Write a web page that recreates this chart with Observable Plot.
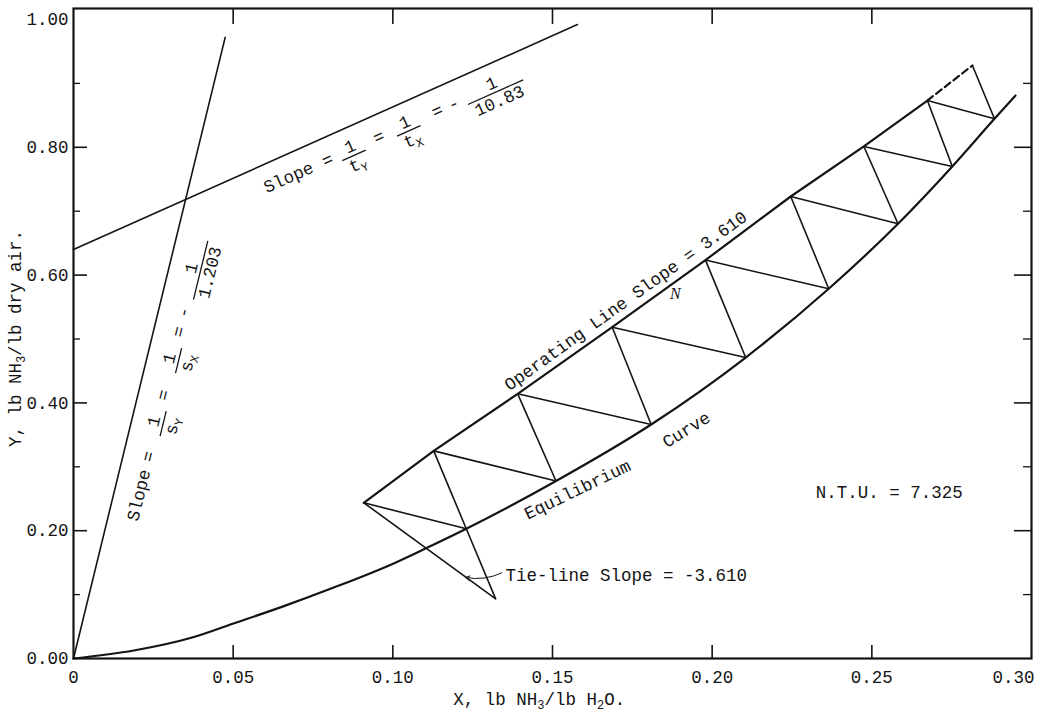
<!DOCTYPE html>
<html>
<head>
<meta charset="utf-8">
<script src="https://cdn.jsdelivr.net/npm/d3@7"></script>
<script src="https://cdn.jsdelivr.net/npm/@observablehq/plot@0.6"></script>
<style>
  body { margin: 0; background: #fff; }
</style>
</head>
<body>
<div id="chart"></div>
<script>
// ---------- data ----------
const xTicks = [0, 0.05, 0.10, 0.15, 0.20, 0.25, 0.30];
const xTickLabels = ["0", "0.05", "0.10", "0.15", "0.20", "0.25", "0.30"];
const yTicks = [0, 0.2, 0.4, 0.6, 0.8, 1.0];
const yTickLabels = ["0.00", "0.20", "0.40", "0.60", "0.80", "1.00"];
const yMinorTicks = [0.1, 0.3, 0.5, 0.7, 0.9];

// equilibrium curve
const eqX = [0, 0.0189, 0.0366, 0.0501, 0.0659, 0.0815, 0.1008, 0.1102, 0.1230, 0.1511, 0.1809, 0.2105, 0.2365, 0.2582, 0.2752, 0.2884, 0.2950];
const eqY = [0, 0.0125, 0.0320, 0.0548, 0.0820, 0.1110, 0.1500, 0.1720, 0.2030, 0.2778, 0.3662, 0.4710, 0.5786, 0.6803, 0.7700, 0.8446, 0.8811];

// operating line points (slope 3.610)
const opX = [0.0909, 0.1128, 0.1391, 0.1687, 0.1979, 0.2246, 0.2475, 0.2674, 0.2815];
const opY = [0.2437, 0.3249, 0.4142, 0.5185, 0.6235, 0.7230, 0.8013, 0.8732, 0.9280];

// step points on the equilibrium curve
const stepX = [0.1230, 0.1511, 0.1809, 0.2105, 0.2365, 0.2582, 0.2752, 0.2884];
const stepY = [0.2030, 0.2778, 0.3662, 0.4710, 0.5786, 0.6803, 0.7700, 0.8446];

// tie-line (slope -3.610)
const tieX = [0.0909, 0.1322];
const tieY = [0.2437, 0.0934];

// slope lines
const sLineX = [0, 0.0475];
const sLineY = [0, 0.972];
const tLineX = [0, 0.1578];
const tLineY = [0.64, 0.992];

// ---------- layout ----------
const W = 1045, H = 717;
const mL = 73, mR = 14, mT = 8, mB = 59;
const plotH = H - mT - mB;
const plotW = W - mL - mR;
const INK = "#141414";
const FONT = "'Liberation Mono', 'DejaVu Sans Mono', monospace";
const FS = 17.5;
const CH = FS * 0.6;

const pairs = (xs, ys) => xs.map((x, i) => [x, ys[i]]);

// rotated label laid out along a line (u along, v perpendicular, + = below)
function along(spec) {
  return (index, scales) => {
    const x0 = scales.x(spec.from[0]), y0 = scales.y(spec.from[1]);
    const x1 = scales.x(spec.to[0]), y1 = scales.y(spec.to[1]);
    const ang = Math.atan2(y1 - y0, x1 - x0) * 180 / Math.PI;
    const g = d3.create("svg:g")
      .attr("transform", `translate(${x0},${y0}) rotate(${ang})`)
      .attr("font-family", FONT).attr("font-size", FS).attr("fill", INK);
    const B = spec.base;
    for (const it of spec.items) {
      if (it.num !== undefined) {
        g.append("text").attr("x", it.u).attr("y", B - 3).attr("text-anchor", "middle").text(it.num);
        const den = g.append("text").attr("x", it.u).attr("y", B + 16).attr("text-anchor", "middle");
        den.append("tspan").text(it.den);
        if (it.sub) den.append("tspan").attr("font-size", 12).attr("dy", 4).text(it.sub);
        const w = it.den.length * CH + (it.sub ? it.sub.length * 7.2 : 0) + 8;
        g.append("line").attr("x1", it.u - w / 2).attr("x2", it.u + w / 2)
          .attr("y1", B + 1).attr("y2", B + 1).attr("stroke", INK).attr("stroke-width", 1.3);
      } else {
        g.append("text").attr("x", it.u).attr("y", B + (it.dv || 0))
          .attr("text-anchor", it.anchor || "middle").text(it.text);
      }
    }
    return g.node();
  };
}

// text with subscripts, placed via scales
function richText({x, y, dx = 0, dy = 0, rotate = 0, parts}) {
  return (index, scales) => {
    const px = scales.x(x) + dx, py = scales.y(y) + dy;
    const t = d3.create("svg:text")
      .attr("transform", `translate(${px},${py}) rotate(${rotate})`)
      .attr("text-anchor", "middle")
      .attr("font-family", FONT).attr("font-size", FS).attr("fill", INK);
    let shift = 0;
    for (const p of parts) {
      const ts = t.append("tspan");
      if (typeof p === "string") {
        if (shift) ts.attr("dy", -shift);
        shift = 0;
        ts.text(p);
      } else {
        ts.attr("font-size", 12).attr("dy", 4 - shift).text(p.sub);
        shift = 4;
      }
    }
    return t.node();
  };
}

const steps = d3.range(stepX.length);
const xFmt = d => xTickLabels[xTicks.indexOf(d)];

const chart = Plot.plot({
  width: W,
  height: H,
  marginLeft: mL,
  marginRight: mR,
  marginTop: mT,
  marginBottom: mB,
  x: {domain: [0, 0.30]},
  y: {domain: [0, 1.0172]},
  style: {fontFamily: FONT, fontSize: FS + "px", color: INK, background: "#fff"},
  marks: [
    // axes labels
    Plot.axisX({ticks: xTicks.slice(0, -1), tickSize: 0, tickPadding: 12, label: null,
      tickFormat: xFmt, fontSize: FS}),
    Plot.axisX({ticks: xTicks.slice(-1), tickSize: 0, tickPadding: 12, label: null,
      tickFormat: xFmt, fontSize: FS, dx: -18}),
    Plot.axisY({ticks: yTicks, tickSize: 0, tickPadding: 5, label: null,
      tickFormat: d => yTickLabels[yTicks.indexOf(d)], fontSize: FS}),
    // inward ticks
    Plot.tickX(xTicks.slice(1, -1), {insetTop: plotH - 13, stroke: INK, strokeWidth: 1.6}),
    Plot.tickX(xTicks.slice(1, -1), {insetBottom: plotH - 16, stroke: INK, strokeWidth: 1.6}),
    Plot.tickY(yTicks.slice(1, -1), {insetRight: plotW - 14, stroke: INK, strokeWidth: 1.6}),
    Plot.tickY(yMinorTicks, {insetRight: plotW - 7, stroke: INK, strokeWidth: 1.3}),
    Plot.tickY(yTicks.slice(1, -1), {insetLeft: plotW - 17, stroke: INK, strokeWidth: 1.6}),
    Plot.tickY(yMinorTicks, {insetLeft: plotW - 8, stroke: INK, strokeWidth: 1.3}),
    Plot.frame({stroke: INK, strokeWidth: 2.2}),

    // slope lines
    Plot.line(pairs(sLineX, sLineY), {stroke: INK, strokeWidth: 1.6}),
    Plot.line(pairs(tLineX, tLineY), {stroke: INK, strokeWidth: 1.6}),

    // equilibrium curve
    Plot.line(pairs(eqX, eqY), {curve: "monotone-x", stroke: INK, strokeWidth: 2.2}),

    // operating line (solid then dashed)
    Plot.line(pairs(opX.slice(0, 8), opY.slice(0, 8)), {stroke: INK, strokeWidth: 2.2}),
    Plot.line(pairs(opX.slice(7), opY.slice(7)), {stroke: INK, strokeWidth: 2.2, strokeDasharray: "7,4"}),

    // staircase: operating point -> curve point
    Plot.link(steps, {x1: i => opX[i], y1: i => opY[i], x2: i => stepX[i], y2: i => stepY[i],
      stroke: INK, strokeWidth: 1.6}),
    // curve point -> next operating point
    Plot.link(steps, {x1: i => opX[i + 1], y1: i => opY[i + 1], x2: i => stepX[i], y2: i => stepY[i],
      stroke: INK, strokeWidth: 1.6}),
    // first steep line extended to the tie-line end
    Plot.link([0], {x1: stepX[0], y1: stepY[0], x2: tieX[1], y2: tieY[1], stroke: INK, strokeWidth: 1.6}),
    // tie-line
    Plot.line(pairs(tieX, tieY), {stroke: INK, strokeWidth: 1.6}),

    // annotations
    Plot.text(["N.T.U. = 7.325"], {x: 0.2324, y: 0.2607, textAnchor: "start", fill: INK}),
    Plot.text(["Tie-line Slope = -3.610"], {x: 0.1353, y: 0.1308, textAnchor: "start", fill: INK}),
    Plot.arrow([0], {x1: 0.1341, y1: 0.1340, x2: 0.1228, y2: 0.1268, bend: 18,
      headLength: 7, stroke: INK, strokeWidth: 1}),
    Plot.text(["Equilibrium"], {x: 0.1578, y: 0.2642, rotate: -25.8, fill: INK}),
    Plot.text(["Curve"], {x: 0.1919, y: 0.3581, rotate: -31.8, fill: INK}),
    Plot.text(["N"], {x: 0.1885, y: 0.570, fontSize: 16, fontStyle: "italic",
      fontFamily: "'Liberation Serif', serif", fill: INK}),

    along({from: [opX[0], opY[0]], to: [opX[8], opY[8]], base: -5,
      items: [{u: 183.5, anchor: "start", text: "Operating Line Slope = 3.610"}]}),

    along({from: [tLineX[0], tLineY[0]], to: [tLineX[1], tLineY[1]], base: 28,
      items: [
        {u: 199.8, anchor: "start", text: "Slope"},
        {u: 268.8, text: "="},
        {u: 294.8, num: "1", den: "t", sub: "Y"},
        {u: 324.8, text: "="},
        {u: 354.8, num: "1", den: "t", sub: "X"},
        {u: 388.8, text: "="},
        {u: 406.8, text: "-"},
        {u: 449.8, num: "1", den: "10.83"}
      ]}),

    along({from: [sLineX[0], sLineY[0]], to: [sLineX[1], sLineY[1]], base: 31,
      items: [
        {u: 147.5, anchor: "start", text: "Slope"},
        {u: 213.5, text: "="},
        {u: 249, num: "1", den: "s", sub: "Y"},
        {u: 277, text: "="},
        {u: 314, num: "1", den: "s", sub: "X"},
        {u: 342, text: "="},
        {u: 362, text: "-"},
        {u: 407, num: "1", den: "1.203"}
      ]}),

    // axis titles
    richText({x: 0, y: 0.5, dx: -52, rotate: -90,
      parts: ["Y, lb NH", {sub: "3"}, "/lb dry air."]}),
    richText({x: 0.146, y: 0, dy: 47,
      parts: ["X, lb NH", {sub: "3"}, "/lb H", {sub: "2"}, "O."]})
  ]
});

document.getElementById("chart").appendChild(chart);
</script>
</body>
</html>
